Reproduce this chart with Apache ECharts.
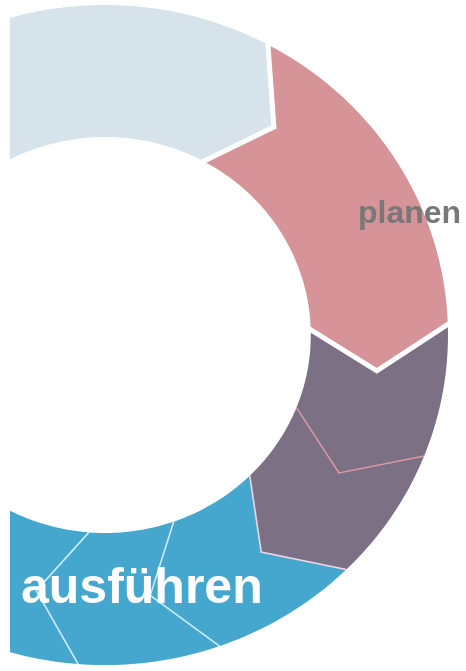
<!DOCTYPE html>
<html>
<head>
<meta charset="utf-8">
<script src="https://cdn.jsdelivr.net/npm/echarts@6/dist/echarts.min.js"></script>
<style>
html,body{margin:0;padding:0;background:#fff;}
#chart{width:466px;height:671px;}
</style>
</head>
<body>
<div id="chart"></div>
<script>
// Segment angular extents (degrees, clockwise from 12 o'clock)
const segStart = [-36, 28, 87.8, 111.5, 135.3, 160.5, 184.5];
const segEnd   = [28, 87.8, 111.5, 135.3, 160.5, 184.5, 208.5];
const segPhase = [0, 1, 2, 2, 3, 3, 3];
const phaseNames = ['', 'planen', '', 'ausführen'];
const labelTexts = ['planen', 'ausführen'];

// styles (not data)
const phaseColors = ['#d7e3ea', '#d69398', '#7c7084', '#45a6ce'];
const edgeStyle = [
  {c: '#ffffff', w: 0, o: 0},
  {c: '#ffffff', w: 5, o: 0.01},
  {c: '#ffffff', w: 5, o: 0.01},
  {c: '#d899a4', w: 1.6, o: 0},
  {c: '#efd6e2', w: 1.6, o: 0},
  {c: '#c9eefa', w: 1.6, o: 0},
  {c: '#c9eefa', w: 1.6, o: 0}
];
const R_OUT = 1.0, R_IN = 0.6, R_TIP = 0.8, TIP = 10;
// ring centre (px) and radii (px) used to set the visible axis window
const CX = 105, CY = 335, RX = 343, RY = 330, W = 466, H = 671;

const chart = echarts.init(document.getElementById('chart'), null, {renderer: 'canvas'});

const data = segStart.map((s, i) => [s, segEnd[i], i]);

function renderItem(params, api) {
  const s = api.value(0), e = api.value(1), idx = api.value(2);
  function pt(r, deg) {
    const a = deg * Math.PI / 180;
    return api.coord([r * Math.sin(a), r * Math.cos(a)]);
  }
  const pts = [];
  for (let a = s; a < e; a += 1) pts.push(pt(R_OUT, a));
  pts.push(pt(R_OUT, e));
  pts.push(pt(R_TIP, e + TIP));
  pts.push(pt(R_IN, e));
  for (let a = e; a > s; a -= 1) pts.push(pt(R_IN, a));
  pts.push(pt(R_IN, s));
  pts.push(pt(R_TIP, s + TIP));
  const children = [{
    type: 'polygon',
    shape: {points: pts},
    style: {fill: phaseColors[segPhase[idx]], stroke: null}
  }];
  const es = edgeStyle[idx];
  if (es.w > 0) {
    children.push({
      type: 'polyline',
      shape: {points: [pt(R_OUT + es.o, s), pt(R_TIP, s + TIP), pt(R_IN - es.o, s)]},
      style: {stroke: es.c, lineWidth: es.w, fill: null, lineJoin: 'miter'},
      z2: 10
    });
  }
  return {type: 'group', children: children};
}

const option = {
  animation: false,
  backgroundColor: '#ffffff',
  grid: {left: 0, top: 0, width: W, height: H, containLabel: false, outerBoundsMode: 'none'},
  xAxis: {type: 'value', min: -CX / RX, max: (W - CX) / RX, show: false, scale: true},
  yAxis: {type: 'value', min: -(H - CY) / RY, max: CY / RY, show: false, scale: true},
  series: [{
    type: 'custom',
    coordinateSystem: 'cartesian2d',
    renderItem: renderItem,
    data: data,
    clip: false
  }],
  graphic: [
    {type: 'rect', left: 0, top: 0, z: 100, shape: {width: 10, height: 671}, style: {fill: '#ffffff'}},
    {type: 'text', z: 100, style: {text: labelTexts[0], x: 358, y: 214, verticalAlign: 'middle',
      fontSize: 32, fontWeight: 'bold', fontFamily: '"Liberation Sans", Arial, sans-serif', fill: '#787878'}},
    {type: 'text', z: 100, style: {text: labelTexts[1], x: 21, y: 589, verticalAlign: 'middle',
      fontSize: 50, fontWeight: 'bold', fontFamily: '"Liberation Sans", Arial, sans-serif', fill: '#ffffff'}}
  ]
};
chart.setOption(option);
</script>
</body>
</html>
